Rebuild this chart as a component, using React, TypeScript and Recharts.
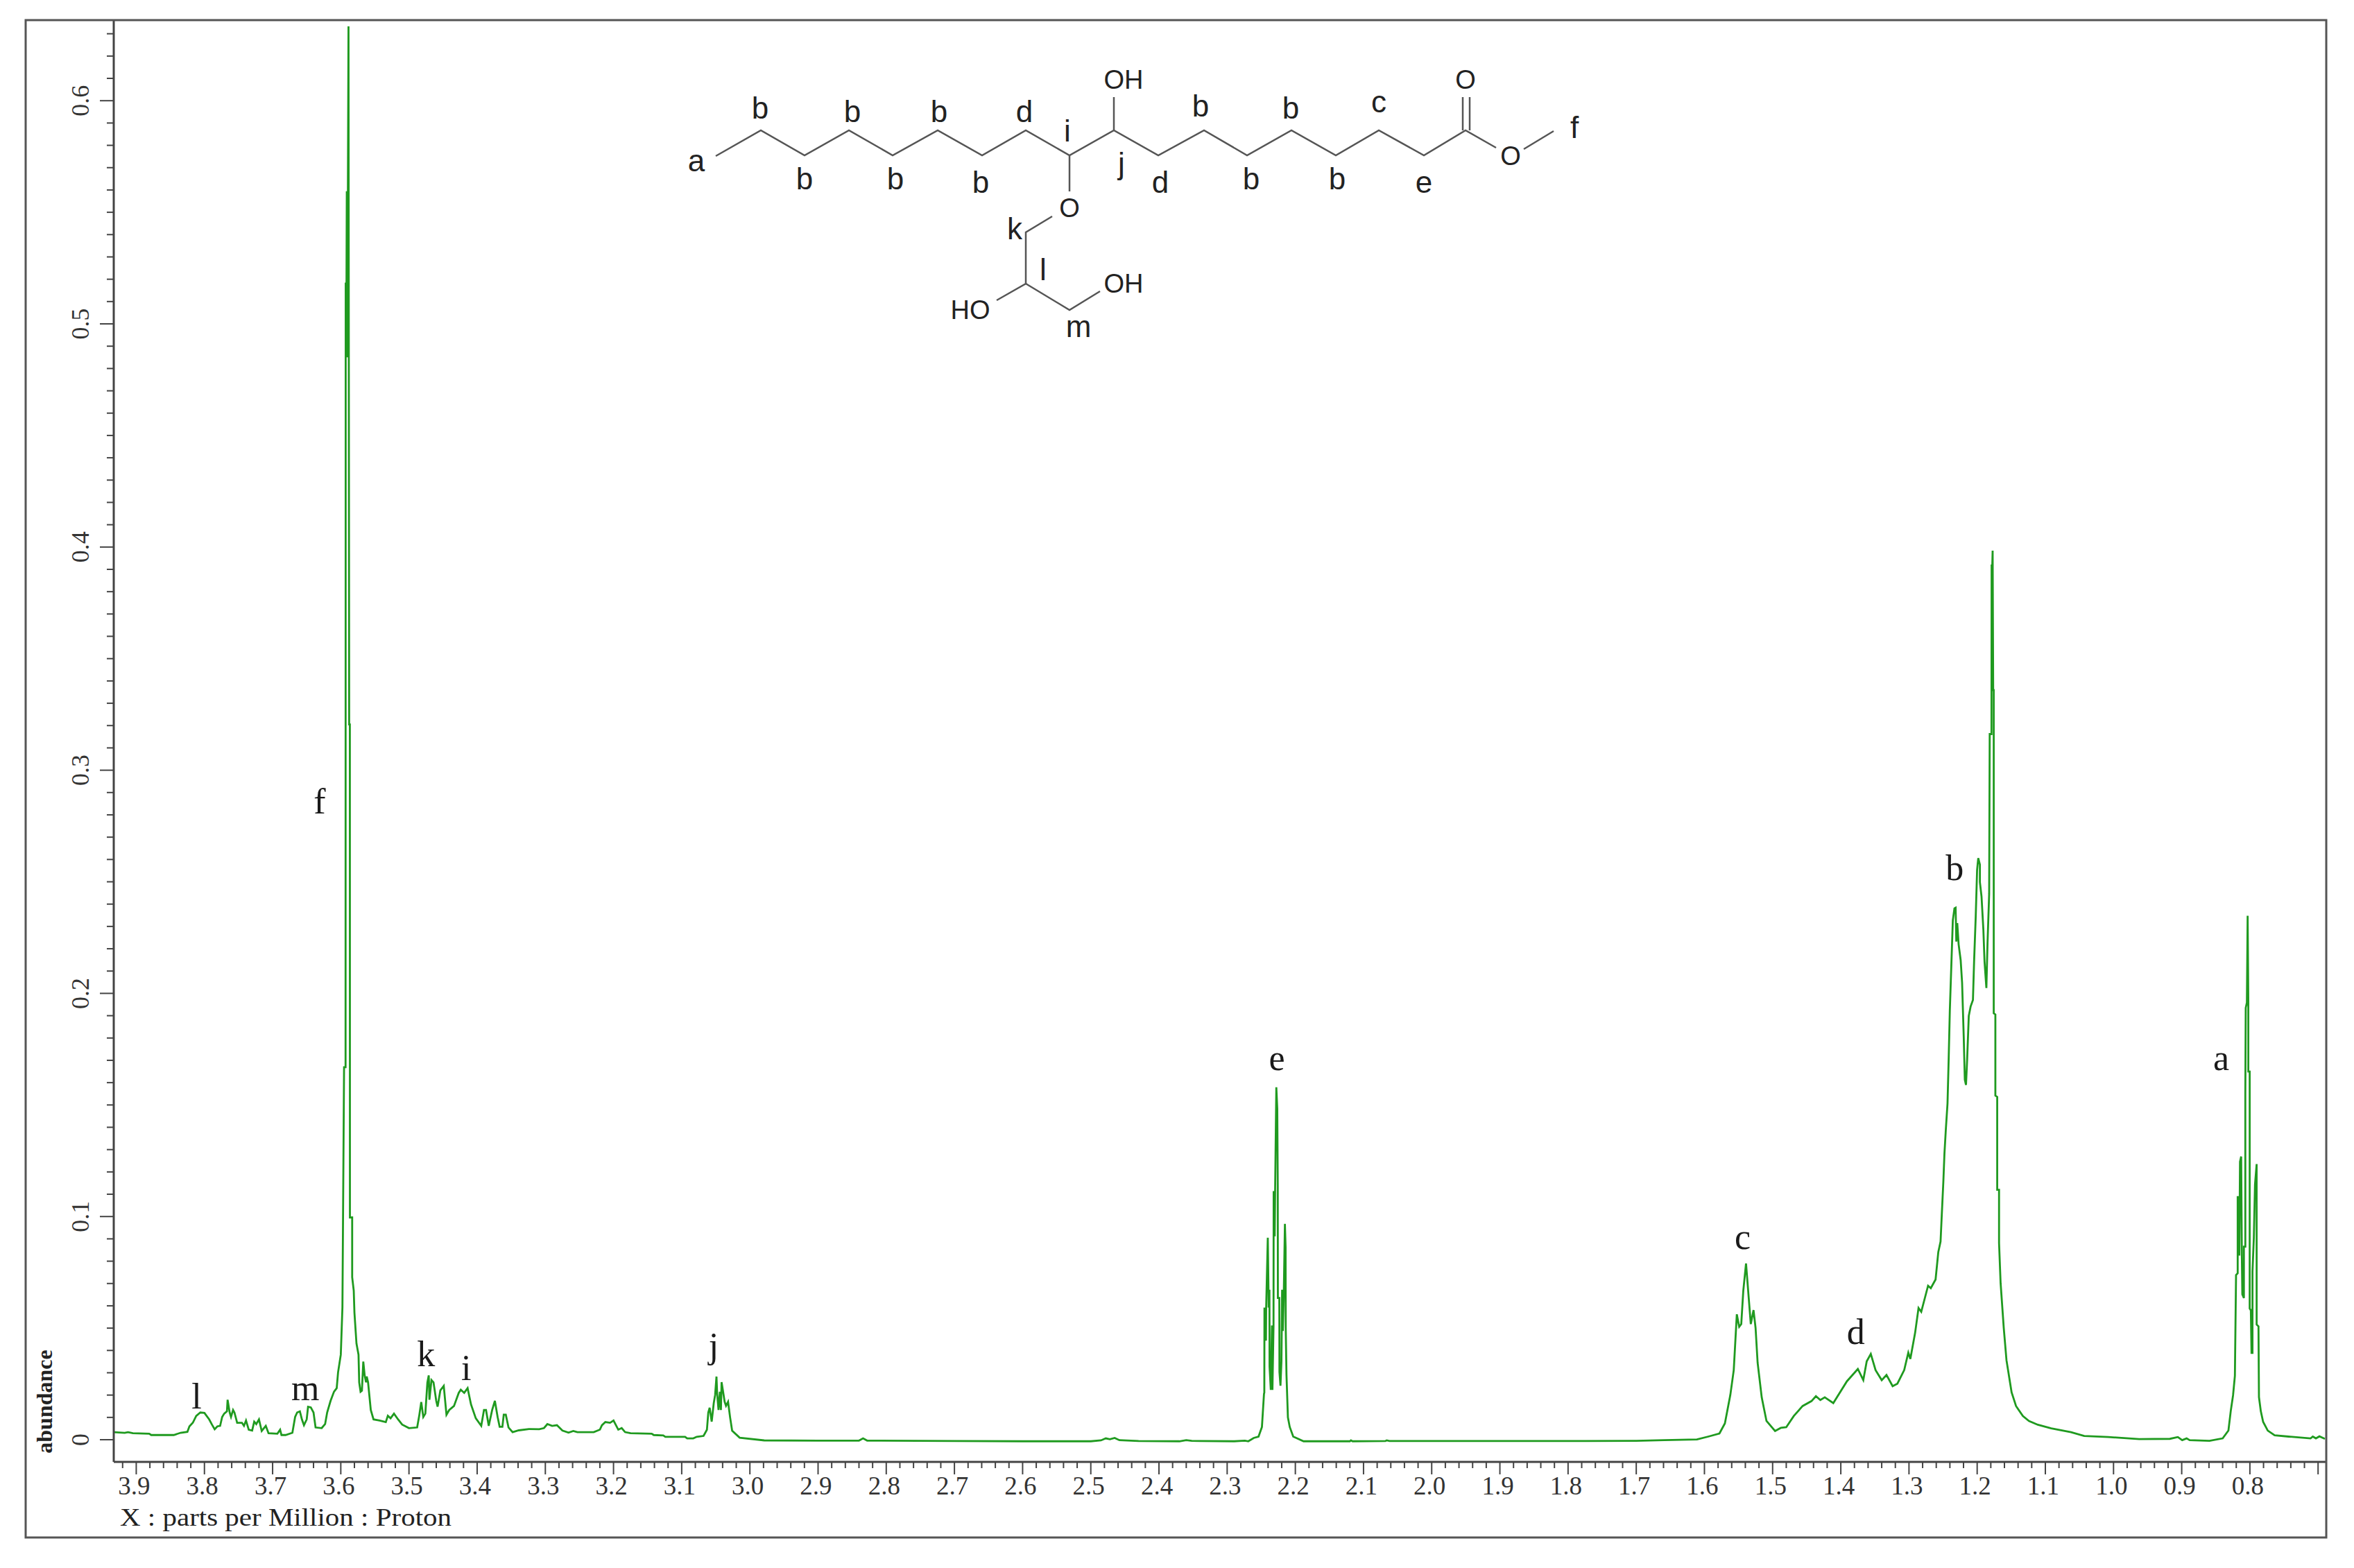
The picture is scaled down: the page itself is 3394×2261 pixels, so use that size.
import { LineChart, Line, XAxis, YAxis, ReferenceDot } from 'recharts'

// readings are [ppm, abundance], downfield to upfield
const downfieldMultiplets: number[][] = [
  [3.934, 0.0034], [3.917, 0.0031], [3.912, 0.0034], [3.905, 0.0029], [3.881, 0.0027], [3.878, 0.0021],
  [3.845, 0.0021], [3.835, 0.0031], [3.825, 0.0035], [3.822, 0.006], [3.817, 0.0076], [3.812, 0.0107],
  [3.806, 0.0122], [3.8, 0.012], [3.793, 0.0091], [3.789, 0.0068], [3.785, 0.0047], [3.781, 0.006],
  [3.777, 0.0062], [3.774, 0.0102], [3.771, 0.0117], [3.767, 0.0127], [3.766, 0.0179], [3.763, 0.0122],
  [3.761, 0.0102], [3.758, 0.0133], [3.756, 0.0122], [3.752, 0.0076], [3.745, 0.0076], [3.742, 0.0062],
  [3.739, 0.0086], [3.735, 0.0045], [3.73, 0.0041], [3.727, 0.0081], [3.724, 0.007], [3.72, 0.0091],
  [3.716, 0.0039], [3.71, 0.0062], [3.706, 0.0029], [3.693, 0.0027], [3.689, 0.0045], [3.687, 0.0021],
  [3.681, 0.0021], [3.671, 0.0031], [3.667, 0.0102], [3.664, 0.0122], [3.66, 0.0127], [3.657, 0.0091],
  [3.654, 0.0065], [3.65, 0.0091], [3.648, 0.0148], [3.644, 0.0145], [3.64, 0.0122], [3.637, 0.0055],
  [3.628, 0.0052], [3.623, 0.007], [3.62, 0.0122], [3.615, 0.0174], [3.61, 0.0215], [3.606, 0.0231],
  [3.604, 0.0302], [3.6, 0.0381],
]

const methoxyPeak: number[][] = [
  [3.5976, 0.0593], [3.5952, 0.1669], [3.593, 0.1669], [3.5928, 0.5185], [3.592, 0.485], [3.5912, 0.5594],
  [3.5905, 0.485], [3.5887, 0.6333], [3.5877, 0.3205], [3.5867, 0.3205], [3.5866, 0.0996], [3.5833, 0.0996],
  [3.5833, 0.0728], [3.581, 0.0668], [3.58, 0.057], [3.577, 0.0431], [3.574, 0.0381], [3.573, 0.0257],
  [3.571, 0.0215], [3.569, 0.022], [3.567, 0.035], [3.565, 0.0288], [3.563, 0.0257], [3.562, 0.0283],
  [3.56, 0.0257], [3.556, 0.0133], [3.552, 0.0091],
]

const midfieldMultiplets: number[][] = [
  [3.543, 0.0086], [3.534, 0.0079], [3.531, 0.0107], [3.527, 0.0096], [3.522, 0.0117], [3.516, 0.0091],
  [3.51, 0.0068], [3.5, 0.0052], [3.488, 0.0055], [3.485, 0.0107], [3.482, 0.0169], [3.479, 0.0102],
  [3.476, 0.0117], [3.473, 0.0257], [3.471, 0.0288], [3.47, 0.0179], [3.467, 0.0267], [3.464, 0.0257],
  [3.46, 0.0174], [3.458, 0.0148], [3.454, 0.0221], [3.449, 0.0241], [3.445, 0.0112], [3.441, 0.0133],
  [3.434, 0.0151], [3.427, 0.021], [3.424, 0.0224], [3.419, 0.021], [3.414, 0.0231], [3.409, 0.0158],
  [3.402, 0.0096], [3.394, 0.0062], [3.39, 0.0133], [3.387, 0.0133], [3.383, 0.0062], [3.378, 0.0133],
  [3.374, 0.0174], [3.37, 0.0102], [3.367, 0.0058], [3.363, 0.0058], [3.361, 0.0112], [3.358, 0.0112],
  [3.354, 0.0055], [3.348, 0.0034], [3.339, 0.0042], [3.324, 0.0048], [3.309, 0.0047], [3.302, 0.0052],
  [3.297, 0.007], [3.29, 0.0062], [3.283, 0.0065], [3.275, 0.0041], [3.266, 0.0032], [3.259, 0.0039],
  [3.253, 0.0034], [3.229, 0.0034], [3.22, 0.0045], [3.217, 0.0065], [3.212, 0.0079], [3.205, 0.0076],
  [3.2, 0.0086], [3.193, 0.0045], [3.188, 0.0052], [3.183, 0.0034], [3.175, 0.0029], [3.144, 0.0027],
  [3.141, 0.0021], [3.127, 0.0019], [3.124, 0.0013], [3.095, 0.0013], [3.092, 0.0006], [3.083, 0.0006],
  [3.078, 0.0013], [3.068, 0.0017],
]

const peakJ: number[][] = [
  [3.063, 0.0045], [3.061, 0.0122], [3.059, 0.0143], [3.056, 0.0081], [3.053, 0.0164], [3.051, 0.02],
  [3.049, 0.0283], [3.048, 0.0205], [3.046, 0.0133], [3.044, 0.0215], [3.0425, 0.0133], [3.0415, 0.0258],
  [3.037, 0.017], [3.035, 0.0152], [3.032, 0.017], [3.029, 0.01], [3.026, 0.004], [3.015, 0.0009],
]

const flatBaselineA: number[][] = [
  [2.979, -0.0003], [2.9, -0.0004], [2.84, -0.0004], [2.834, 0.0006], [2.828, -0.0004], [2.7, -0.0006],
  [2.6, -0.0007], [2.5, -0.0007], [2.485, -0.0003], [2.478, 0.0006], [2.472, 0.0002], [2.465, 0.0008],
  [2.458, -0.0002], [2.43, -0.0006], [2.37, -0.0007], [2.36, -0.0002], [2.352, -0.0005], [2.34, -0.0006],
  [2.2896, -0.0007], [2.274, -0.0004], [2.269, -0.0007], [2.261, 0.0008], [2.254, 0.0014], [2.249, 0.0057],
  [2.246, 0.0205],
]

const peakE: number[][] = [
  [2.2455, 0.0211], [2.2453, 0.0592], [2.2431, 0.0444], [2.2428, 0.0592], [2.2404, 0.0905], [2.2394, 0.0672],
  [2.2392, 0.0592], [2.238, 0.0672], [2.2378, 0.0328], [2.236, 0.0223], [2.2343, 0.0512], [2.2336, 0.0223],
  [2.232, 0.0512], [2.2318, 0.1114], [2.2303, 0.0911], [2.2296, 0.1133], [2.2279, 0.1579], [2.2265, 0.1483],
  [2.2258, 0.1139], [2.2256, 0.0635], [2.2235, 0.0635], [2.2233, 0.0303], [2.2218, 0.0242], [2.2204, 0.0352],
  [2.2194, 0.0672], [2.2184, 0.0487], [2.217, 0.0641], [2.2153, 0.0967], [2.2143, 0.0862], [2.2141, 0.05],
  [2.213, 0.0291], [2.2109, 0.01], [2.2082, 0.0057], [2.2031, 0.0014], [2.1879, -0.0007],
]

const flatBaselineB: number[][] = [
  [2.12, -0.0007], [2.1185, -0.0003], [2.116, -0.0007], [2.068, -0.0006], [2.066, -0.0003], [2.062, -0.0006],
  [1.85, -0.0006], [1.7, -0.0005], [1.659, -0.0002], [1.611, 0.0001],
]

const peakCAndD: number[][] = [
  [1.5944, 0.0014], [1.578, 0.0028], [1.57, 0.0073], [1.562, 0.0201], [1.557, 0.0312], [1.5525, 0.0562],
  [1.549, 0.0506], [1.546, 0.0518], [1.543, 0.0668], [1.539, 0.079], [1.535, 0.0634], [1.532, 0.0518],
  [1.528, 0.0581], [1.525, 0.0501], [1.522, 0.0345], [1.516, 0.019], [1.509, 0.0084], [1.4964, 0.0039],
  [1.488, 0.0053], [1.48, 0.0056], [1.469, 0.0106], [1.456, 0.0151], [1.443, 0.0173], [1.4365, 0.0195],
  [1.43, 0.0178], [1.4235, 0.019], [1.411, 0.0164], [1.391, 0.0262], [1.375, 0.0317], [1.367, 0.0267],
  [1.362, 0.0351], [1.356, 0.0384], [1.349, 0.0312], [1.34, 0.0267], [1.333, 0.029], [1.324, 0.024],
  [1.317, 0.0251], [1.307, 0.0312], [1.301, 0.039], [1.298, 0.0362], [1.291, 0.0479], [1.286, 0.059],
  [1.282, 0.0573], [1.272, 0.069], [1.268, 0.0679], [1.261, 0.0718],
]

const peakB: number[][] = [
  [1.257, 0.0841], [1.2537, 0.0888], [1.252, 0.1001], [1.2496, 0.1156], [1.248, 0.1281], [1.2459, 0.1393],
  [1.2435, 0.1506], [1.2418, 0.1703], [1.2401, 0.1923], [1.2377, 0.2143], [1.2357, 0.2327], [1.2333, 0.2381],
  [1.2316, 0.2384], [1.2306, 0.2232], [1.2292, 0.2315], [1.2272, 0.222], [1.2242, 0.2149], [1.2221, 0.2048],
  [1.2197, 0.1804], [1.2181, 0.1613], [1.2164, 0.159], [1.2147, 0.1703], [1.2123, 0.1899], [1.2096, 0.1941],
  [1.2062, 0.197], [1.2045, 0.2143], [1.2021, 0.2345], [1.2001, 0.2553], [1.1984, 0.2606], [1.196, 0.2577],
  [1.196, 0.2499], [1.1936, 0.2434], [1.1909, 0.2285], [1.1892, 0.2143], [1.1865, 0.2024], [1.1848, 0.2226],
  [1.1824, 0.2446], [1.1816, 0.3162], [1.179, 0.3162], [1.1788, 0.3922], [1.1782, 0.3359], [1.1778, 0.3922],
  [1.1773, 0.3984], [1.1765, 0.3359], [1.1757, 0.3359], [1.1757, 0.1911], [1.1733, 0.1905], [1.1733, 0.1542],
  [1.1706, 0.1536], [1.1706, 0.112], [1.1679, 0.112], [1.1679, 0.0882], [1.1656, 0.0701], [1.161, 0.0501],
  [1.157, 0.0356], [1.1495, 0.0212], [1.143, 0.0151], [1.133, 0.0106], [1.124, 0.0084], [1.111, 0.0067],
  [1.0914, 0.0051], [1.0624, 0.0034], [1.043, 0.0017], [1.0076, 0.0012], [0.9624, 0.0003], [0.9173, 0.0004],
  [0.9057, 0.0012], [0.8993, -0.0002], [0.8928, 0.0006], [0.8883, -0.0002], [0.8593, -0.0005],
]

const peakA: number[][] = [
  [0.8399, 0.0006], [0.8315, 0.0041], [0.8281, 0.0128], [0.8247, 0.0199], [0.822, 0.0286], [0.8203, 0.0738],
  [0.8179, 0.0746], [0.8179, 0.1087], [0.8155, 0.1087], [0.8155, 0.0825], [0.8145, 0.1246], [0.8128, 0.1269],
  [0.8118, 0.0825], [0.8111, 0.0651], [0.8088, 0.0635], [0.8088, 0.0865], [0.8067, 0.0865], [0.8067, 0.1547],
  [0.8061, 0.1935], [0.8044, 0.1959], [0.8033, 0.2348], [0.8023, 0.1959], [0.8023, 0.165], [0.8003, 0.165],
  [0.8003, 0.0588], [0.7986, 0.058], [0.7976, 0.0389], [0.7962, 0.0389], [0.7962, 0.0754], [0.7942, 0.0905],
  [0.7925, 0.1143], [0.7901, 0.1235], [0.7901, 0.0516], [0.7874, 0.0508], [0.7867, 0.0191], [0.784, 0.0128],
  [0.7806, 0.008], [0.7738, 0.0041], [0.7637, 0.002], [0.7433, 0.0014], [0.711, 0.0006], [0.7077, 0.0014],
  [0.7032, 0.0006], [0.698, 0.0015], [0.69, 0.0004],
]

const spectrum = [
  ...downfieldMultiplets, ...methoxyPeak, ...midfieldMultiplets, ...peakJ, ...flatBaselineA,
  ...peakE, ...flatBaselineB, ...peakCAndD, ...peakB, ...peakA,
].map(([ppm, abundance]) => ({ ppm, abundance }))

const peakLabels = [
  { text: 'l', ppm: 3.8115, value: 0.0196 },
  { text: 'm', ppm: 3.652, value: 0.0236 },
  { text: 'f', ppm: 3.631, value: 0.2862 },
  { text: 'k', ppm: 3.475, value: 0.0388 },
  { text: 'i', ppm: 3.416, value: 0.0326 },
  { text: 'j', ppm: 3.053, value: 0.0424 },
  { text: 'e', ppm: 2.227, value: 0.1715 },
  { text: 'c', ppm: 1.544, value: 0.0913 },
  { text: 'd', ppm: 1.378, value: 0.0485 },
  { text: 'b', ppm: 1.233, value: 0.2564 },
  { text: 'a', ppm: 0.842, value: 0.1715 },
]

const xTicks = Array.from({ length: 162 }, (_, i) => (70 + i * 2) / 100)
const yTicks = Array.from({ length: 64 }, (_, i) => i / 100)

// drawing of the molecule above the spectrum, in page pixels
const bonds = [
  '1032,225 1097,188 1160,224 1224,188 1287,224 1352,188 1416,224 1479,188 1542,224 1606,188 1670,224 1736,188 1798,224 1862,188 1926,224 1988,188 2053,224 2113,188 2157,213',
  '2197,215 2240,189',
  '2109,188 2109,140',
  '2119,188 2119,140',
  '1606,188 1606,140',
  '1542,224 1542,276',
  '1517,312 1479,335 1479,409 1437,433',
  '1479,409 1542,447 1586,420',
]
const atomLabels: [string, number, number][] = [
  ['O', 2178, 225], ['O', 2113, 115], ['OH', 1620, 115], ['O', 1542, 300], ['HO', 1399, 447], ['OH', 1620, 409],
]
const positionLabels: [string, number, number][] = [
  ['a', 1004, 231], ['b', 1096, 155], ['b', 1160, 257], ['b', 1229, 160], ['b', 1291, 257], ['b', 1354, 160],
  ['b', 1414, 262], ['d', 1477, 160], ['i', 1539, 188], ['j', 1617, 235], ['d', 1673, 262], ['b', 1731, 152],
  ['b', 1861, 155], ['c', 1988, 146], ['b', 1804, 257], ['b', 1928, 257], ['e', 2053, 262], ['k', 1463, 329],
  ['l', 1504, 388], ['m', 1555, 470], ['f', 2270, 183],
]

const SERIF = '"Liberation Serif", serif'
const SANS = '"Liberation Sans", sans-serif'

function XTick({ x, y, payload }: any) {
  const major = Math.round(payload.value * 100) % 10 === 0
  return (
    <g>
      <line x1={x} x2={x} y1={y} y2={y + (major ? 18 : 9)} stroke="#444" strokeWidth={2} />
      {major && payload.value > 0.75 && (
        <text x={x - 3} y={y + 47} textAnchor="middle" fontFamily={SERIF} fontSize={37} fill="#333">
          {payload.value.toFixed(1)}
        </text>
      )}
    </g>
  )
}

function YTick({ x, y, payload }: any) {
  const major = Math.round(payload.value * 100) % 10 === 0
  return (
    <g>
      <line x1={x - (major ? 20 : 10)} x2={x} y1={y} y2={y} stroke="#444" strokeWidth={2} />
      {major && (
        <text
          transform={`translate(${x - 36} ${y}) rotate(-90)`}
          textAnchor="middle"
          fontFamily={SERIF}
          fontSize={36}
          fill="#333"
        >
          {payload.value === 0 ? '0' : payload.value.toFixed(1)}
        </text>
      )}
    </g>
  )
}

export default function App() {
  return (
    <div style={{ position: 'absolute', left: 0, top: 0, width: 3394, height: 2261, background: '#fff' }}>
      <LineChart
        width={3394}
        height={2261}
        data={spectrum}
        margin={{ top: 30, right: 40, bottom: 44, left: 44 }}
      >
        <XAxis
          dataKey="ppm"
          type="number"
          reversed
          domain={[0.688, 3.933]}
          ticks={xTicks}
          interval={0}
          height={109}
          tickLine={false}
          tickSize={0}
          tickMargin={0}
          tick={<XTick />}
          axisLine={{ stroke: '#444', strokeWidth: 3 }}
          allowDataOverflow
          label={{
            content: ({ viewBox }: any) => (
              <text
                x={viewBox.x + 9}
                y={viewBox.y + 92}
                fontFamily={SERIF}
                fontSize={36}
                fill="#222"
                textLength={478}
                lengthAdjust="spacingAndGlyphs"
              >
                X : parts per Million : Proton
              </text>
            ),
          }}
        />
        <YAxis
          type="number"
          domain={[-0.00994, 0.6358]}
          ticks={yTicks}
          interval={0}
          width={120}
          tickLine={false}
          tickSize={0}
          tickMargin={0}
          tick={<YTick />}
          axisLine={{ stroke: '#444', strokeWidth: 3 }}
          allowDataOverflow
          label={{
            content: ({ viewBox }: any) => (
              <text
                transform={`translate(${viewBox.x + 31} 2021) rotate(-90)`}
                textAnchor="middle"
                fontFamily={SERIF}
                fontWeight="bold"
                fontSize={32}
                fill="#222"
              >
                abundance
              </text>
            ),
          }}
        />
        <Line
          dataKey="abundance"
          type="linear"
          stroke="#1f9a1f"
          strokeWidth={2.8}
          dot={false}
          activeDot={false}
          isAnimationActive={false}
        />
        {peakLabels.map((peak) => (
          <ReferenceDot
            key={peak.text}
            x={peak.ppm}
            y={peak.value}
            r={0}
            fill="none"
            stroke="none"
            label={{ value: peak.text, position: 'center', fontFamily: SERIF, fontSize: 52, fill: '#1a1a1a' }}
          />
        ))}
      </LineChart>
      <svg width={3394} height={2261} style={{ position: 'absolute', left: 0, top: 0, pointerEvents: 'none' }}>
        <rect x={37} y={29} width={3317} height={2188} fill="none" stroke="#555" strokeWidth={3} />
        {bonds.map((points) => (
          <polyline key={points} points={points} fill="none" stroke="#555" strokeWidth={2.5} />
        ))}
        {atomLabels.map(([text, x, y], i) => (
          <text key={i} x={x} y={y} textAnchor="middle" dominantBaseline="central" fontFamily={SANS} fontSize={38} fill="#222">
            {text}
          </text>
        ))}
        {positionLabels.map(([text, x, y], i) => (
          <text key={i} x={x} y={y} textAnchor="middle" dominantBaseline="central" fontFamily={SANS} fontSize={44} fill="#222">
            {text}
          </text>
        ))}
      </svg>
    </div>
  )
}
